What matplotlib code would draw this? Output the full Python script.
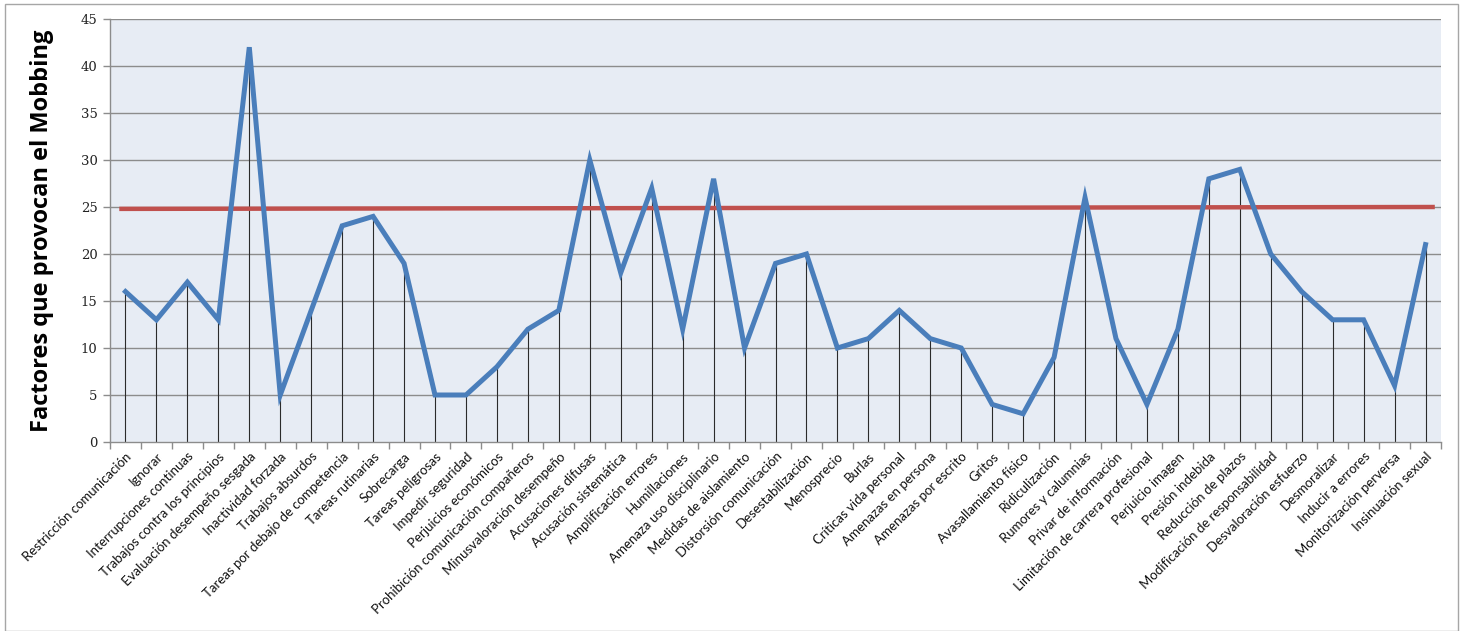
import matplotlib
matplotlib.use("Agg")
import matplotlib.pyplot as plt
from matplotlib.patches import Rectangle

categorias = [
    "Restricción comunicación", "Ignorar", "Interrupciones continuas",
    "Trabajos contra los principios", "Evaluación desempeño sesgada",
    "Inactividad forzada", "Trabajos absurdos", "Tareas por debajo de competencia",
    "Tareas rutinarias", "Sobrecarga", "Tareas peligrosas", "Impedir seguridad",
    "Perjuicios económicos", "Prohibición comunicación compañeros",
    "Minusvaloración desempeño", "Acusaciones difusas", "Acusación sistemática",
    "Amplificación errores", "Humillaciones", "Amenaza uso disciplinario",
    "Medidas de aislamiento", "Distorsión comunicación", "Desestabilización",
    "Menosprecio", "Burlas", "Críticas vida personal", "Amenazas en persona",
    "Amenazas por escrito", "Gritos", "Avasallamiento físico", "Ridiculización",
    "Rumores y calumnias", "Privar de información",
    "Limitación de carrera profesional", "Perjuicio imagen", "Presión indebida",
    "Reducción de plazos", "Modificación de responsabilidad",
    "Desvaloración esfuerzo", "Desmoralizar", "Inducir a errores",
    "Monitorización perversa", "Insinuación sexual",
]
valores = [
    16, 13, 17, 13, 42, 5, 14, 23, 24, 19, 5, 5, 8, 12, 14, 30, 18, 27, 12, 28,
    10, 19, 20, 10, 11, 14, 11, 10, 4, 3, 9, 26, 11, 4, 12, 28, 29, 20, 16, 13,
    13, 6, 21,
]
umbral = [24.8, 25.0]
y_ticks = [0, 5, 10, 15, 20, 25, 30, 35, 40, 45]

fig = plt.figure(figsize=(14.63, 6.31), dpi=100)
fig.patch.set_facecolor("white")
fig.patches.append(Rectangle((5 / 1463, 0.0), 1453 / 1463, 1 - 4 / 631,
                             transform=fig.transFigure, fill=False,
                             edgecolor="#a6a6a6", linewidth=1.0))

ax = fig.add_axes([110 / 1463, 1 - 442 / 631, 1331 / 1463, 423 / 631])
ax.set_facecolor("#e7ecf4")

x = list(range(len(categorias)))
ax.set_xlim(-0.5, len(categorias) - 0.5)
ax.set_ylim(0, 45)

for yv in y_ticks[1:]:
    ax.axhline(yv, color="#8c8c8c", linewidth=1.0, zorder=1)

ax.vlines(x, 0, valores, color="#2b2b2b", linewidth=0.8, zorder=2)
ax.plot([-0.2, len(categorias) - 0.7], umbral, color="#c0504d",
        linewidth=3.2, solid_capstyle="butt", zorder=3)
ax.plot(x, valores, color="#4a7ebb", linewidth=3.6,
        solid_joinstyle="miter", zorder=4)

ax.set_yticks(y_ticks)
ax.set_yticklabels([str(v) for v in y_ticks], family="DejaVu Serif",
                   fontsize=9.5, color="#222222")
ax.set_xticks([i - 0.5 for i in range(len(categorias) + 1)], minor=False)
ax.set_xticklabels([])
ax.set_xticks(x, minor=True)
ax.set_xticklabels(categorias, minor=True, rotation=45, ha="right",
                   rotation_mode="anchor", fontsize=9.5, family="Lato",
                   color="#111111")
ax.tick_params(axis="x", which="major", length=5, color="#8c8c8c", width=1.0)
ax.tick_params(axis="x", which="minor", length=0, pad=6)
ax.tick_params(axis="y", length=5, color="#8c8c8c", width=1.0, pad=4)

for side in ("top", "right"):
    ax.spines[side].set_visible(False)
for side in ("left", "bottom"):
    ax.spines[side].set_color("#8c8c8c")
    ax.spines[side].set_linewidth(1.0)

fig.text(42 / 1463, 1 - 231 / 631, "Factores que provocan el Mobbing",
         rotation=90, ha="center", va="center", fontsize=17,
         fontweight="bold", family="Open Sans", color="black")

fig.savefig("out.png", dpi=100, facecolor="white")
